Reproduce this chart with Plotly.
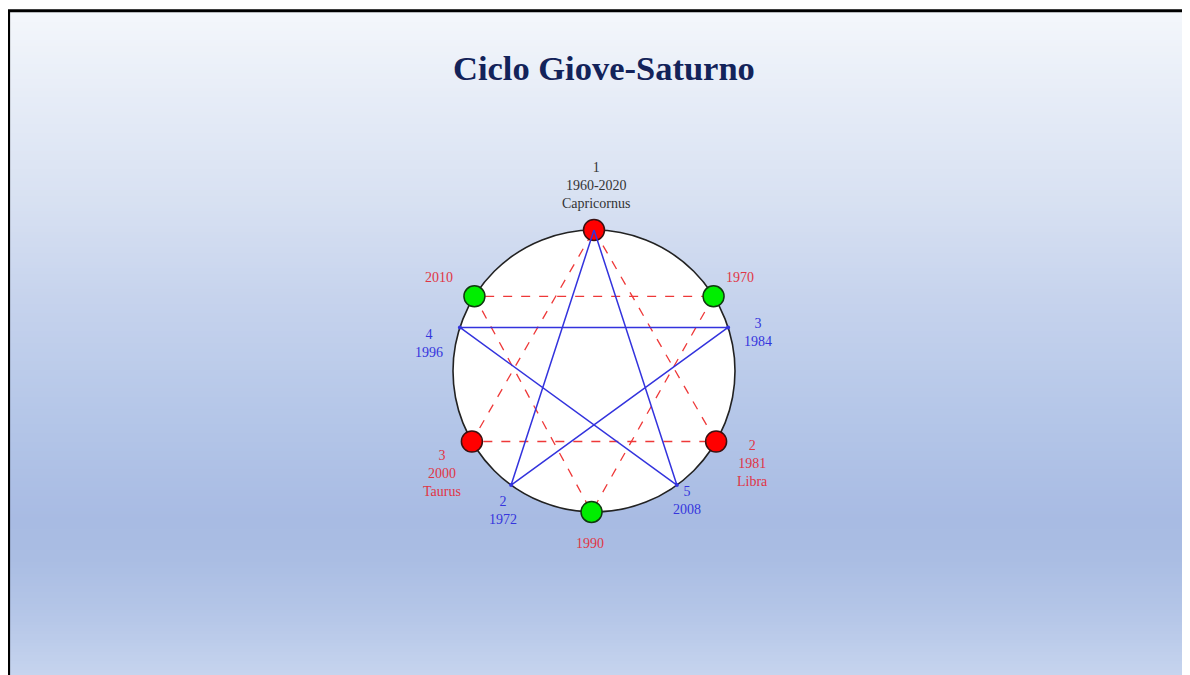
import numpy as np
import plotly.graph_objects as go

# ---------------- data ----------------
title_text = "Ciclo Giove-Saturno"

red_years = [1960, 1981, 2000]          # conjunction points (triangle)
red_angles = [90, -30, 210]              # degrees on the circle
red_labels = ["1<br>1960-2020<br>Capricornus", "2<br>1981<br>Libra", "3<br>2000<br>Taurus"]

green_years = [1970, 1990, 2010]         # opposition points
green_angles = [32, 269, 148]
green_labels = ["1970", "1990", "2010"]

penta_years = [1960, 1972, 1984, 1996, 2008, 2020]   # pentagram path
penta_angles = [90, -126, 18, 162, -54, 90]
penta_labels = ["", "2<br>1972", "3<br>1984", "4<br>1996", "5<br>2008", ""]

# ---------------- layout helpers ----------------
W, H = 1190, 675
OFF = 8                        # page body margin
CX, CY, R = 594 - OFF, 371 - OFF, 141      # circle centre / radius in figure pixels
FONT = "Liberation Serif, Times New Roman, serif"

def xy(angles):
    a = np.radians(np.array(angles, dtype=float))
    return np.cos(a), np.sin(a)

fig = go.Figure()

# background gradient (bands) inside a black frame
stops_y = [y - OFF for y in [11, 100, 200, 300, 420, 520, 560, 620, 675]]
stops_c = [(244, 247, 251), (230, 236, 247), (216, 225, 242), (198, 211, 237),
           (180, 198, 232), (168, 187, 227), (170, 189, 227), (182, 199, 232), (198, 212, 238)]
shapes = []
band = 3
for y in range(2, H, band):
    ym = y + band / 2
    c = [int(round(np.interp(ym, stops_y, [s[i] for s in stops_c]))) for i in range(3)]
    shapes.append(dict(type="rect", xref="paper", yref="paper", layer="below",
                       x0=0, x1=1.01, y0=1 - (y + band + 0.5) / H, y1=1 - y / H,
                       line=dict(width=0), fillcolor=f"rgb({c[0]},{c[1]},{c[2]})"))
# frame
shapes.append(dict(type="rect", xref="paper", yref="paper", layer="below",
                   x0=0.6 / W, x1=1.02, y0=-0.02, y1=1 - 2.8 / H,
                   line=dict(color="black", width=3), fillcolor="rgba(0,0,0,0)"))
# main circle
shapes.append(dict(type="circle", xref="x", yref="y", layer="below",
                   x0=-1, x1=1, y0=-1, y1=1,
                   line=dict(color="#222222", width=1.6), fillcolor="white"))

# dashed red triangles
rx, ry = xy(red_angles + red_angles[:1])
fig.add_trace(go.Scatter(x=rx, y=ry, mode="lines",
                         line=dict(color="#ee3838", width=1.3, dash="dash"),
                         hoverinfo="skip", showlegend=False))
gx, gy = xy(green_angles + green_angles[:1])
fig.add_trace(go.Scatter(x=gx, y=gy, mode="lines",
                         line=dict(color="#ee3838", width=1.3, dash="dash"),
                         hoverinfo="skip", showlegend=False))

# markers
rx, ry = xy(red_angles)
fig.add_trace(go.Scatter(x=rx, y=ry, mode="markers",
                         marker=dict(size=21, color="#ff0000", line=dict(color="#3a1010", width=1.5)),
                         text=[str(v) for v in red_years], hoverinfo="text", showlegend=False))
gx, gy = xy(green_angles)
fig.add_trace(go.Scatter(x=gx, y=gy, mode="markers",
                         marker=dict(size=21, color="#00ee00", line=dict(color="#103a10", width=1.5)),
                         text=[str(v) for v in green_years], hoverinfo="text", showlegend=False))

# blue pentagram
px, py = xy(penta_angles)
fig.add_trace(go.Scatter(x=px, y=py, mode="lines",
                         line=dict(color="#3333dd", width=1.5),
                         text=[str(v) for v in penta_years], hoverinfo="text", showlegend=False))
fig.add_trace(go.Scatter(x=px[1:-1], y=py[1:-1], mode="markers",
                         marker=dict(size=4, color="#3333dd"),
                         hoverinfo="skip", showlegend=False))

# labels
annotations = []
def lab(x, y, text, color, dx, dy):
    annotations.append(dict(x=x, y=y, xref="x", yref="y", text=text, showarrow=False,
                            xshift=dx, yshift=dy, xanchor="center", yanchor="middle",
                            font=dict(family=FONT, size=14, color=color)))

red_shift = [(2, 45), (36, -22), (-30, -32)]
rx, ry = xy(red_angles)
for i, t in enumerate(red_labels):
    lab(rx[i], ry[i], t, "#333333" if i == 0 else "#e03545", *red_shift[i])

green_shift = [(26, 19), (-2, -32), (-35, 19)]
gx, gy = xy(green_angles)
for i, t in enumerate(green_labels):
    lab(gx[i], gy[i], t, "#e03545", *green_shift[i])

penta_shift = [None, (-8, -25), (30, -5), (-31, -16), (10, -15), None]
for i, t in enumerate(penta_labels):
    if t:
        lab(px[i], py[i], t, "#3535dd", *penta_shift[i])

annotations.append(dict(x=(604 - OFF) / W, y=1 - (68 - OFF) / H, xref="paper", yref="paper",
                        text="<b>" + title_text + "</b>", showarrow=False,
                        xanchor="center", yanchor="middle",
                        font=dict(family=FONT, size=34.5, color="#13235a")))

fig.update_layout(
    width=W, height=H, autosize=False,
    margin=dict(l=0, r=0, t=0, b=0),
    paper_bgcolor="white", plot_bgcolor="rgba(0,0,0,0)",
    shapes=shapes, annotations=annotations,
    xaxis=dict(range=[-CX / R, (W - CX) / R], visible=False, fixedrange=True, domain=[0, 1]),
    yaxis=dict(range=[(CY - H) / R, CY / R], visible=False, fixedrange=True, domain=[0, 1]),
    showlegend=False,
)

fig.write_html("out.html", config={"displayModeBar": False})
